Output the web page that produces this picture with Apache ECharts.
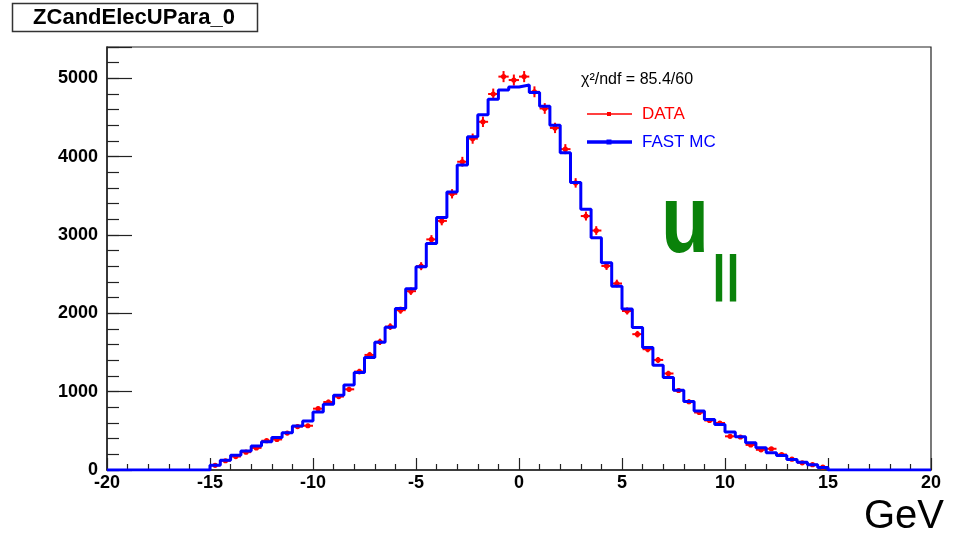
<!DOCTYPE html>
<html><head><meta charset="utf-8">
<script src="https://cdn.jsdelivr.net/npm/echarts@6/dist/echarts.min.js"></script>
<style>html,body{margin:0;padding:0;background:#fff}#c{width:961px;height:537px}</style>
</head><body><div id="c"></div>
<script>
// Histogram binning (GeV)
const binLow = -15;
const binWidth = 0.5;
// FAST MC bin contents, bins from -15 to 15 GeV
const mcValues = [
  61, 125, 189, 241, 305, 360, 416, 476, 561, 625,
  740, 838, 954, 1085, 1244, 1436, 1630, 1822, 2061, 2313,
  2594, 2893, 3222, 3550, 3895, 4254, 4536, 4733, 4850, 4890,
  4915, 4818, 4645, 4400, 4050, 3670, 3328, 2966, 2646, 2345,
  2056, 1820, 1563, 1338, 1180, 1018, 873, 753, 646, 582,
  484, 425, 348, 284, 220, 186, 134, 100, 67, 32
];
// DATA bin contents
const dataValues = [
  60, 118, 172, 228, 282, 374, 390, 472, 555, 565,
  783, 868, 937, 1030, 1257, 1469, 1636, 1830, 2040, 2283,
  2602, 2944, 3180, 3526, 3935, 4230, 4445, 4800, 5022, 4978,
  5022, 4828, 4615, 4367, 4096, 3665, 3242, 3057, 2605, 2381,
  2030, 1734, 1542, 1405, 1232, 1015, 871, 734, 632, 600,
  430, 421, 320, 258, 271, 198, 138, 92, 68, 36
];
const xTickLabels = ['-20', '-15', '-10', '-5', '0', '5', '10', '15', '20'];
const yTickLabels = ['0', '1000', '2000', '3000', '4000', '5000'];
const chi2Text = 'χ²/ndf = 85.4/60';

// Build step outline for MC histogram from bin edges
const mcPoints = [[-20, 0]];
mcValues.forEach((v, i) => mcPoints.push([binLow + i * binWidth, v]));
mcPoints.push([binLow + mcValues.length * binWidth, 0]);
mcPoints.push([20, 0]);

// Data points at bin centres with Poisson errors
const dataPoints = dataValues.map((v, i) => [binLow + (i + 0.5) * binWidth, v, Math.sqrt(v)]);

const FONT = '"Liberation Sans", Arial, Helvetica, sans-serif';
const chart = echarts.init(document.getElementById('c'), null, {renderer: 'canvas'});

const option = {
  backgroundColor: '#ffffff',
  animation: false,
  grid: {left: 107, right: 30, top: 47, bottom: 67, show: true, borderColor: '#222', borderWidth: 1.2, backgroundColor: 'transparent'},
  xAxis: [{
    type: 'value', min: -20, max: 20, interval: 5,
    axisLine: {show: true, onZero: false, lineStyle: {color: '#222', width: 1.5}},
    axisTick: {show: true, inside: true, length: 12, lineStyle: {color: '#222', width: 1.2}},
    minorTick: {show: true, splitNumber: 5, length: 6, lineStyle: {color: '#222', width: 1.2}},
    splitLine: {show: false},
    axisLabel: {fontFamily: FONT, fontWeight: 'bold', fontSize: 18, color: '#000', margin: 4,
      formatter: v => { const i = Math.round((v + 20) / 5); return xTickLabels[i] !== undefined ? xTickLabels[i] : ''; }}
  }],
  yAxis: [{
    type: 'value', min: 0, max: 5400, interval: 1000,
    axisLine: {show: true, onZero: false, lineStyle: {color: '#222', width: 1.5}},
    axisTick: {show: true, inside: true, length: 25, lineStyle: {color: '#222', width: 1.2}},
    splitLine: {show: false},
    axisLabel: {fontFamily: FONT, fontWeight: 'bold', fontSize: 18, color: '#000', margin: 9,
      formatter: v => (v % 1000 === 0 && yTickLabels[v / 1000] !== undefined) ? yTickLabels[v / 1000] : ''}
  }, {
    type: 'value', min: 0, max: 5400, interval: 200, position: 'left',
    axisLine: {show: false, onZero: false},
    axisTick: {show: true, inside: true, length: 12, lineStyle: {color: '#222', width: 1.2}},
    splitLine: {show: false},
    axisLabel: {show: false}
  }],
  series: [{
    name: 'DATA',
    type: 'custom',
    z: 2,
    data: dataPoints,
    encode: {x: 0, y: 1},
    renderItem: function (params, api) {
      const x = api.value(0), v = api.value(1), e = api.value(2);
      const c = api.coord([x, v]);
      const l = api.coord([x - binWidth / 2, v]);
      const r = api.coord([x + binWidth / 2, v]);
      const t = api.coord([x, v + e]);
      const b = api.coord([x, v - e]);
      const st = {stroke: '#ff0000', lineWidth: 2};
      return {type: 'group', children: [
        {type: 'line', shape: {x1: l[0], y1: l[1], x2: r[0], y2: r[1]}, style: st},
        {type: 'line', shape: {x1: t[0], y1: t[1], x2: b[0], y2: b[1]}, style: st},
        {type: 'circle', shape: {cx: c[0], cy: c[1], r: 2.6}, style: {fill: '#ff0000'}}
      ]};
    }
  }, {
    name: 'FAST MC',
    type: 'line',
    z: 3,
    step: 'end',
    data: mcPoints,
    showSymbol: false,
    lineStyle: {color: '#0000ff', width: 3},
    itemStyle: {color: '#0000ff'}
  }],
  graphic: [
    {type: 'rect', shape: {x: 12.5, y: 3.5, width: 245, height: 28}, style: {fill: '#fff', stroke: '#333', lineWidth: 1.5}},
    {type: 'text', x: 134, y: 18, style: {text: 'ZCandElecUPara_0', font: 'bold 22px ' + FONT, fill: '#000', textAlign: 'center', textVerticalAlign: 'middle'}},
    {type: 'text', x: 581, y: 80, style: {text: chi2Text, font: '16px ' + FONT, fill: '#000', textAlign: 'left', textVerticalAlign: 'middle'}},
    {type: 'line', shape: {x1: 587, y1: 114, x2: 632, y2: 114}, style: {stroke: '#ff0000', lineWidth: 1.5}},
    {type: 'rect', shape: {x: 607, y: 112, width: 4, height: 4}, style: {fill: '#ff0000'}},
    {type: 'text', x: 642, y: 114, style: {text: 'DATA', font: '17px ' + FONT, fill: '#ff0000', textAlign: 'left', textVerticalAlign: 'middle'}},
    {type: 'line', shape: {x1: 587, y1: 142, x2: 632, y2: 142}, style: {stroke: '#0000ff', lineWidth: 3.5}},
    {type: 'rect', shape: {x: 606.5, y: 139.5, width: 5, height: 5}, style: {fill: '#0000ff'}},
    {type: 'text', x: 642, y: 142, style: {text: 'FAST MC', font: '17px ' + FONT, fill: '#0000ff', textAlign: 'left', textVerticalAlign: 'middle'}},
    {type: 'text', x: 661, y: 226, scaleX: 0.82, style: {text: 'u', font: 'bold 96px ' + FONT, fill: '#0a820a', textAlign: 'left', textVerticalAlign: 'middle'}},
    {type: 'text', x: 712, y: 276, style: {text: '||', font: 'bold 50px ' + FONT, fill: '#0a820a', textAlign: 'left', textVerticalAlign: 'middle'}},
    {type: 'text', x: 944, y: 517, style: {text: 'GeV', font: '40px ' + FONT, fill: '#000', textAlign: 'right', textVerticalAlign: 'middle'}}
  ]
};
chart.setOption(option);
</script>
</body></html>
